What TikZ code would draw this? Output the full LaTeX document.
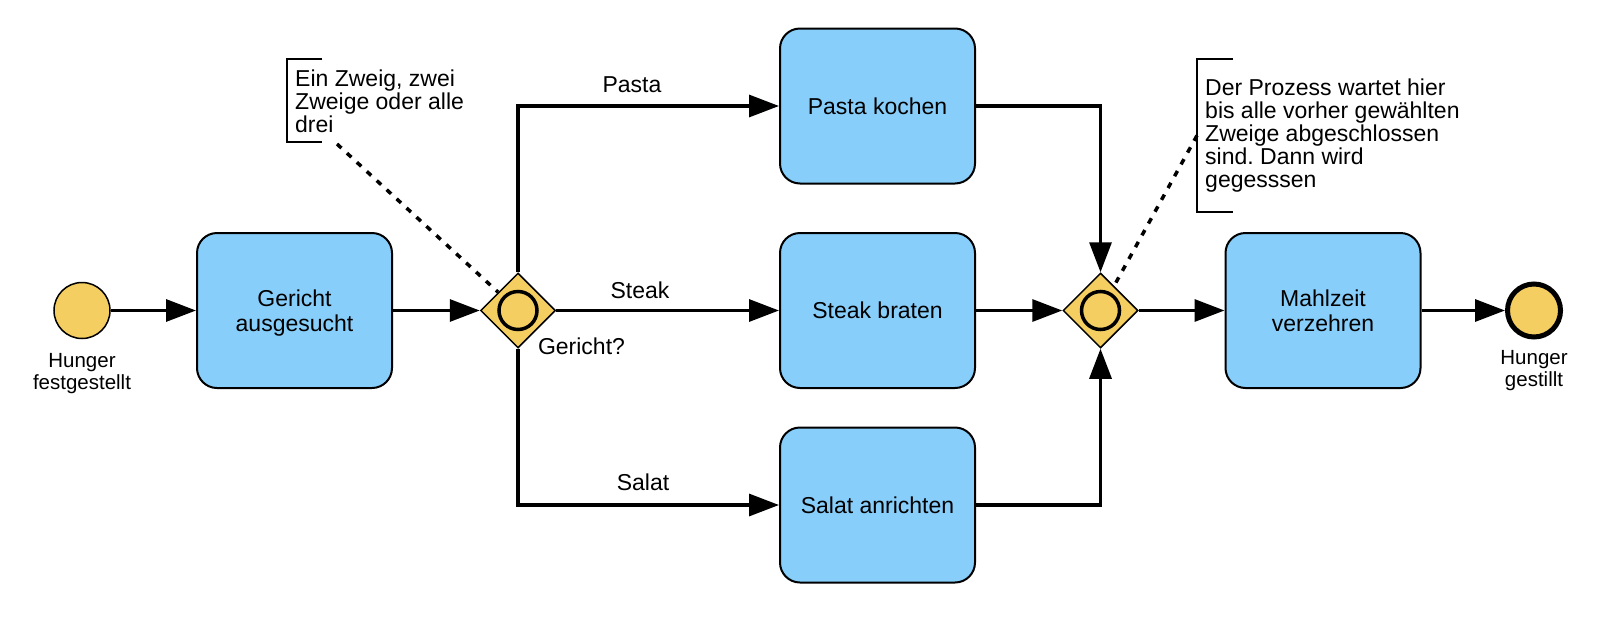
\documentclass[tikz,border=0pt]{standalone}
\usepackage{fontspec}
\setmainfont{Liberation Sans}
\usetikzlibrary{arrows.meta,shapes.geometric}
\definecolor{taskblue}{RGB}{135,206,250}
\definecolor{gwyellow}{RGB}{245,206,98}
\frenchspacing
\begin{document}
\begin{tikzpicture}[x=1pt,y=-1pt,
  every node/.style={font=\fontsize{23}{25.5}\selectfont},
  task/.style={draw, line width=2pt, fill=taskblue, rounded corners=20pt, minimum width=195pt, minimum height=155pt, align=center, inner sep=0pt, text depth=0pt},
  gateway/.style={draw, diamond, aspect=1, line width=1.5pt, fill=gwyellow, minimum width=75pt, minimum height=75pt, inner sep=0pt,
    path picture={\draw[line width=3.5pt] (path picture bounding box.center) circle (19pt);}},
  startev/.style={draw, circle, line width=1.5pt, fill=gwyellow, minimum size=56pt, inner sep=0pt},
  endev/.style={draw, circle, line width=5pt, fill=gwyellow, minimum size=53pt, inner sep=0pt},
  flow/.style={line width=3.2pt, -{Triangle[length=30pt,width=22pt]}},
  assoc/.style={line width=3.5pt, dash pattern=on 6pt off 7.5pt},
  bracket/.style={line width=1.5pt},
  flowlbl/.style={anchor=base, inner sep=0pt},
  evlbl/.style={font=\fontsize{20.5}{22}\selectfont, align=center, anchor=north, inner sep=0pt},
  note/.style={font=\fontsize{23}{23}\selectfont, align=left, anchor=north west, inner sep=0pt},
]
\useasboundingbox (0,0) rectangle (1600,627);

% nodes
\node[startev] (start) at (82,310.5) {};
\node[evlbl] (startlbl) at (82,353) {Hunger\\festgestellt};
\node[task] (gericht) at (294.5,310.5) {Gericht\\ausgesucht};
\node[gateway] (g1) at (518,310.5) {};
\node[task] (pasta) at (877.5,106) {Pasta kochen};
\node[task] (steak) at (877.5,310.5) {Steak braten};
\node[task] (salat) at (877.5,505) {Salat anrichten};
\node[gateway] (g2) at (1100.5,310.5) {};
\node[task] (mahlzeit) at (1323,310.5) {Mahlzeit\\verzehren};
\node[endev] (stop) at (1534,310.5) {};
\node[evlbl] (stoplbl) at (1534,350.5) {Hunger\\gestillt};

% flows
\draw[flow] (start) -- (gericht);
\draw[flow] (gericht) -- (g1);
\draw[flow] (g1.north) |- (pasta);
\draw[flow] (g1) -- (steak);
\draw[flow] (g1.south) |- (salat);
\draw[flow] (pasta) -| (g2.north);
\draw[flow] (steak) -- (g2);
\draw[flow] (salat) -| (g2.south);
\draw[flow] (g2) -- (mahlzeit);
\draw[flow] (mahlzeit) -- (stop);

% flow labels
\node[flowlbl] (lpasta) at (632,92) {Pasta};
\node[flowlbl] (lsteak) at (640,298) {Steak};
\node[flowlbl] (lsalat) at (643,490) {Salat};
\node[flowlbl] (lger) at (581.5,354) {Gericht?};

% annotation 1
\draw[bracket] (322,59) -- (287,59) -- (287,142) -- (322,142);
\node[note] (note1) at (295,69.5) {Ein Zweig, zwei\\Zweige oder alle\\drei};
\coordinate (n1end) at (337,144);
\draw[assoc] (n1end) -- (g1);

% annotation 2
\draw[bracket] (1233,59) -- (1197,59) -- (1197,212) -- (1233,212);
\node[note] (note2) at (1205,78.5) {Der Prozess wartet hier\\bis alle vorher gewählten\\Zweige abgeschlossen\\sind. Dann wird\\gegesssen};
\coordinate (n2end) at (1197,135.5);
\draw[assoc] (n2end) -- (g2);
\end{tikzpicture}
\end{document}
